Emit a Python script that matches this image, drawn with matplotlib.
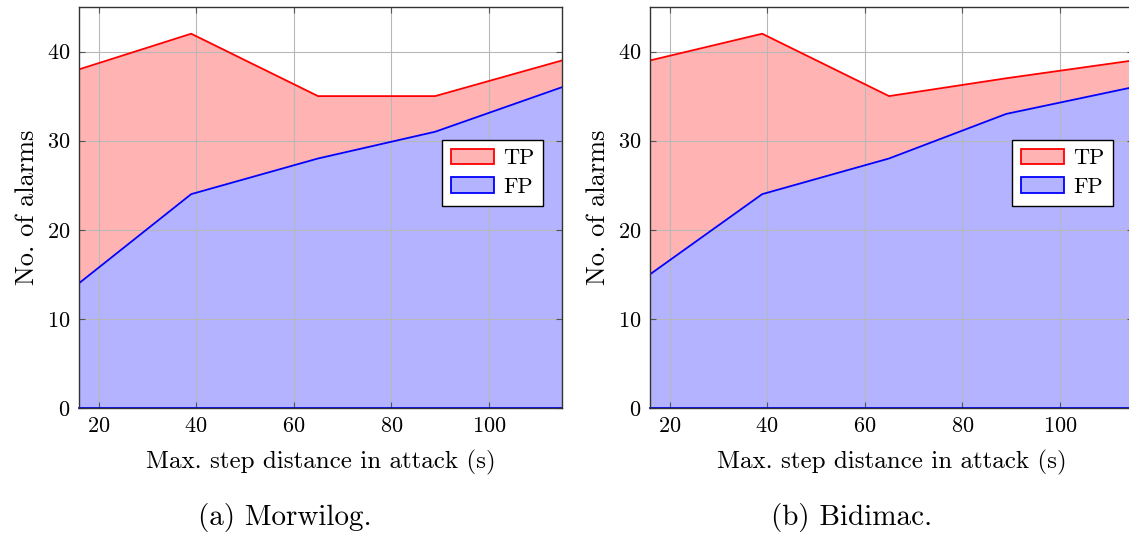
import numpy as np
import matplotlib
matplotlib.use('Agg')
import matplotlib.pyplot as plt
from matplotlib.patches import Patch

plt.rcParams['font.family'] = ['cmr10', 'DejaVu Serif']
plt.rcParams['mathtext.fontset'] = 'cm'
plt.rcParams['axes.formatter.use_mathtext'] = True

# data
step_dist = [16, 39, 65, 89, 115]
# Morwilog
mor_fp = [14, 24, 28, 31, 36]
mor_tp = [24, 18, 7, 4, 3]
# Bidimac
bid_fp = [15, 24, 28, 33, 36]
bid_tp = [24, 18, 7, 4, 3]

captions = ['(a) Morwilog.', '(b) Bidimac.']
x_ticks = [20, 40, 60, 80, 100]
y_ticks = [0, 10, 20, 30, 40]

W, H = 1129, 533
fig = plt.figure(figsize=(W / 100, H / 100), dpi=100)

# axes boxes in pixels: left, top, right, bottom
boxes = [(79, 7, 562, 408), (650, 7, 1133, 408)]
legend_left = [442, 1012]
caption_x = [285, 852]
data = [(mor_fp, mor_tp), (bid_fp, bid_tp)]

for i, ((l, t, r, b), (fp, tp), cap) in enumerate(zip(boxes, data, captions)):
    ax = fig.add_axes([l / W, 1 - b / H, (r - l) / W, (b - t) / H])
    x = np.array(step_dist)
    fp = np.array(fp)
    top = fp + np.array(tp)
    ax.fill_between(x, 0, fp, color='#b3b3ff', lw=0, zorder=2)
    ax.fill_between(x, fp, top, color='#ffb3b3', lw=0, zorder=2)
    ax.plot(x, fp, color='blue', lw=1.3, zorder=3)
    ax.plot(x, top, color='red', lw=1.3, zorder=3)
    ax.plot(x, np.zeros_like(x), color='blue', lw=1.3, zorder=3, clip_on=False)
    ax.set_xlim(16, 115)
    ax.set_ylim(0, 45)
    ax.set_xticks(x_ticks)
    ax.set_yticks(y_ticks)
    ax.grid(True, color='#b8b8b8', lw=0.8, zorder=4)
    ax.set_axisbelow(False)
    ax.tick_params(direction='in', top=True, right=True, length=4,
                   labelsize=16, color='#555555', pad=6)
    for s in ax.spines.values():
        s.set_color('#333333')
        s.set_linewidth(1.0)
        s.set_zorder(5)
    ax.set_xlabel('Max. step distance in attack (s)', fontsize=18, labelpad=10)
    ax.set_ylabel('No. of alarms', fontsize=19, labelpad=6)
    handles = [Patch(facecolor='#ffb3b3', edgecolor='red', lw=1.3, label='TP'),
               Patch(facecolor='#b3b3ff', edgecolor='blue', lw=1.3, label='FP')]
    leg = ax.legend(handles=handles, loc='upper left',
                    bbox_to_anchor=((legend_left[i] - l) / (r - l), (b - 140) / (b - t)),
                    fancybox=False, framealpha=1, edgecolor='black',
                    fontsize=16, handlelength=1.95, handleheight=0.7,
                    borderpad=0.4, labelspacing=0.4, handletextpad=0.4,
                    borderaxespad=0)
    leg.get_frame().set_linewidth(1.0)
    leg.set_zorder(6)
    fig.text(caption_x[i] / W, 1 - 517 / H, cap, fontsize=21,
             ha='center', va='center')

fig.savefig('out.png', dpi=100)
